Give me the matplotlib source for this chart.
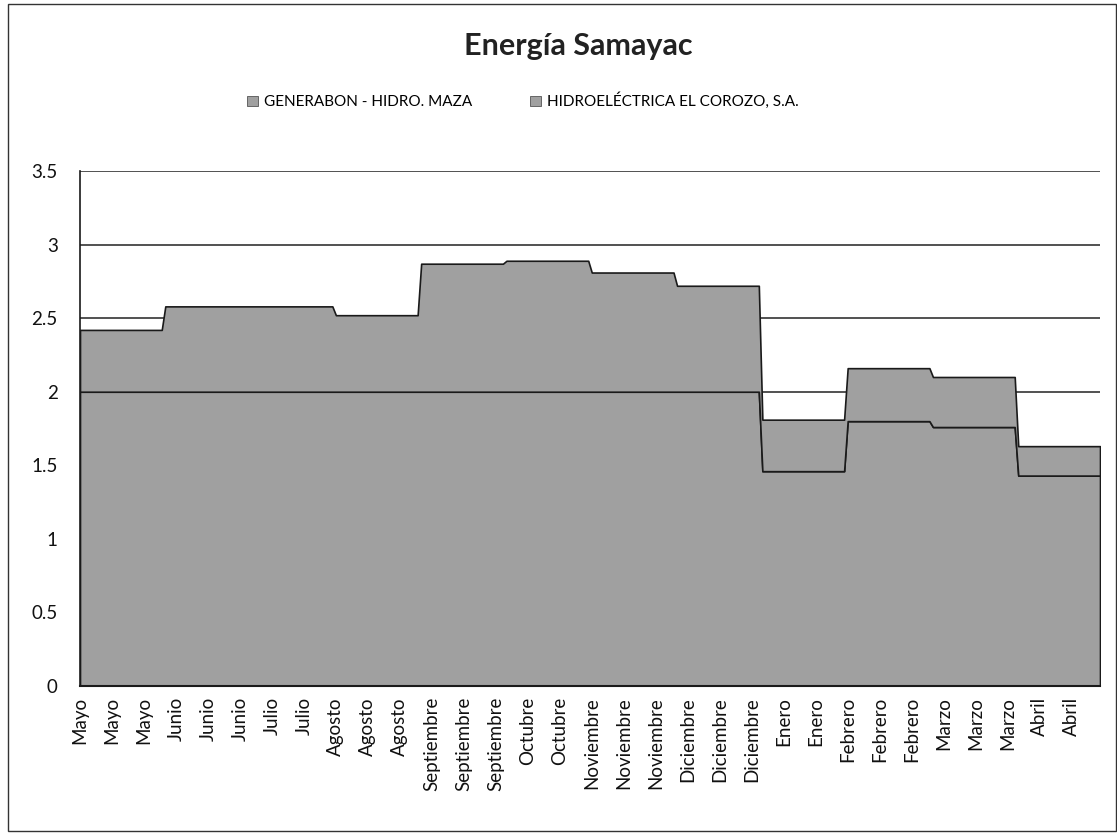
import numpy as np
import matplotlib.pyplot as plt
from matplotlib.patches import Patch, Rectangle

plt.rcParams['font.family'] = ['Lato', 'DejaVu Sans']

# monthly values (May -> April)
meses = ['Mayo', 'Junio', 'Julio', 'Agosto', 'Septiembre', 'Octubre',
         'Noviembre', 'Diciembre', 'Enero', 'Febrero', 'Marzo', 'Abril']
maza = [2.0, 2.0, 2.0, 2.0, 2.0, 2.0, 2.0, 2.0, 1.46, 1.80, 1.76, 1.43]
corozo = [0.42, 0.58, 0.58, 0.52, 0.87, 0.89, 0.81, 0.72, 0.35, 0.36, 0.34, 0.20]

# category labels shown on the axis (one every 9 points)
tick_labels = ['Mayo', 'Mayo', 'Mayo', 'Junio', 'Junio', 'Junio', 'Julio', 'Julio',
               'Agosto', 'Agosto', 'Agosto', 'Septiembre', 'Septiembre', 'Septiembre',
               'Octubre', 'Octubre', 'Noviembre', 'Noviembre', 'Noviembre',
               'Diciembre', 'Diciembre', 'Diciembre', 'Enero', 'Enero',
               'Febrero', 'Febrero', 'Febrero', 'Marzo', 'Marzo', 'Marzo',
               'Abril', 'Abril']

pts_per_month = 24
y1 = np.repeat(maza, pts_per_month)
y2 = y1 + np.repeat(corozo, pts_per_month)
x = np.arange(len(y1))

fill = '#a0a0a0'
edge = '#1a1a1a'

fig = plt.figure(figsize=(11.17, 8.33), dpi=100)
ax = fig.add_axes([80 / 1117, 1 - 686 / 833, 1020 / 1117, 515 / 833])

ax.set_ylim(0, 3.5)
ax.set_xlim(0, len(y1) - 1)
ax.set_yticks(np.arange(0, 3.51, 0.5))
ax.set_yticklabels(['0', '0.5', '1', '1.5', '2', '2.5', '3', '3.5'])
ax.yaxis.grid(True, color='#222222', lw=1.1)
ax.set_axisbelow(True)

ax.fill_between(x, 0, y1, facecolor=fill, edgecolor=edge, lw=1.2, zorder=2)
ax.fill_between(x, y1, y2, facecolor=fill, edgecolor=edge, lw=1.2, zorder=2)

ax.set_xticks(x[::9])
ax.set_xticklabels(tick_labels, rotation=90)
ax.tick_params(axis='x', length=0, pad=8, labelsize=13.5, colors='#111111')
ax.tick_params(axis='y', length=0, pad=16, labelsize=13.5, colors='#111111')

for s in ['top', 'right']:
    ax.spines[s].set_visible(False)
ax.spines['left'].set_color(edge)
ax.spines['bottom'].set_color(edge)
ax.spines['left'].set_linewidth(1.2)
ax.spines['bottom'].set_linewidth(1.5)

fig.text(0.518, 1 - 46 / 833, 'Energía Samayac', ha='center', va='center',
         fontsize=22, fontweight='bold', color='#222222')

handles = [Patch(facecolor=fill, edgecolor='#555555', lw=0.6),
           Patch(facecolor=fill, edgecolor='#555555', lw=0.6)]
fig.legend(handles, ['GENERABON - HIDRO. MAZA', 'HIDROELÉCTRICA EL COROZO, S.A.'],
           loc='center', bbox_to_anchor=(0.468, 1 - 101 / 833), ncol=2, frameon=False,
           fontsize=11, handlelength=0.7, handleheight=0.7, handletextpad=0.4,
           columnspacing=3.8)

# chart border
fig.patches.append(Rectangle((8 / 1117, 2 / 833), 1108 / 1117, 827 / 833,
                             transform=fig.transFigure, fill=False,
                             edgecolor='#333333', lw=1))

fig.savefig('out.png', dpi=100)
